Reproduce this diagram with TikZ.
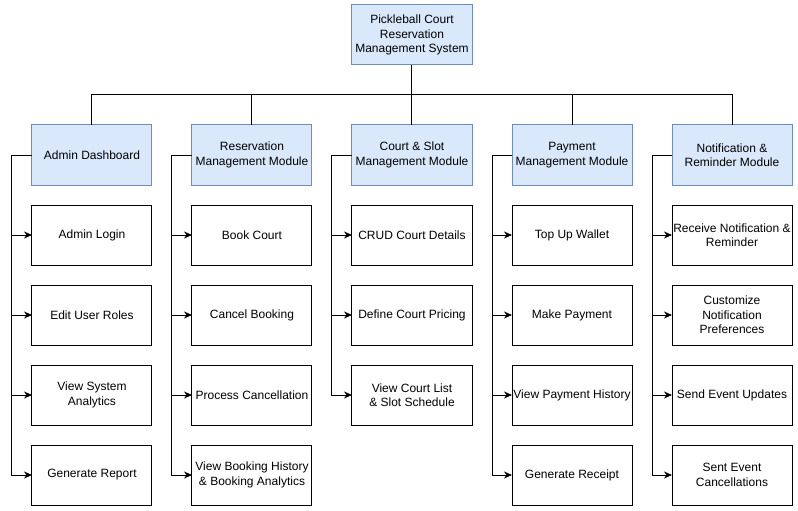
\documentclass[tikz,border=0pt]{standalone}
\usepackage{fontspec}
\setmainfont{Liberation Sans}
\usepackage{xcolor}
\usepackage{tikz}
\usetikzlibrary{arrows.meta,positioning,calc}

\definecolor{modfill}{HTML}{DAE8FC}
\definecolor{moddraw}{HTML}{6C8EBF}

\begin{document}
\begin{tikzpicture}[
    >={Stealth[length=8pt,width=7pt,inset=2.5pt]},
    node distance=20pt and 40pt,
    block/.style={draw, line width=1pt, outer sep=0pt, inner sep=1pt, minimum height=60pt, minimum width=120pt, align=center, font=\fontsize{12}{14.4}\selectfont},
    module/.style={block, fill=modfill, draw=moddraw},
    task/.style={block, fill=white, draw=black},
    link/.style={line width=1pt, draw=black},
    arr/.style={->, line width=1pt, draw=black},
]
\useasboundingbox (-412pt,35pt) rectangle (386pt,-476pt);

% Root
\node[module] (root) {Pickleball Court\\Reservation\\Management System};

% Modules
\node[module, below=60pt of root] (court) {Court \& Slot\\Management Module};
\node[module, left=of court] (resv) {Reservation\\Management Module};
\node[module, left=of resv] (admin) {Admin Dashboard};
\node[module, right=of court] (pay) {Payment\\Management Module};
\node[module, right=of pay] (notif) {Notification \&\\Reminder Module};

% Admin tasks
\node[task, below=of admin] (admin1) {Admin Login};
\node[task, below=of admin1] (admin2) {Edit User Roles};
\node[task, below=of admin2] (admin3) {View System\\Analytics};
\node[task, below=of admin3] (admin4) {Generate Report};

% Reservation tasks
\node[task, below=of resv] (resv1) {Book Court};
\node[task, below=of resv1] (resv2) {Cancel Booking};
\node[task, below=of resv2] (resv3) {Process Cancellation};
\node[task, below=of resv3] (resv4) {View Booking History\\\& Booking Analytics};

% Court tasks
\node[task, below=of court] (court1) {CRUD Court Details};
\node[task, below=of court1] (court2) {Define Court Pricing};
\node[task, below=of court2] (court3) {View Court List\\\& Slot Schedule};

% Payment tasks
\node[task, below=of pay] (pay1) {Top Up Wallet};
\node[task, below=of pay1] (pay2) {Make Payment};
\node[task, below=of pay2] (pay3) {View Payment History};
\node[task, below=of pay3] (pay4) {Generate Receipt};

% Notification tasks
\node[task, below=of notif] (notif1) {Receive Notification \&\\Reminder};
\node[task, below=of notif1] (notif2) {Customize\\Notification\\Preferences};
\node[task, below=of notif2] (notif3) {Send Event Updates};
\node[task, below=of notif3] (notif4) {Sent Event\\Cancellations};

% Root -> modules
\coordinate (bus) at ($(root.south)!0.5!(court.north)$);
\draw[link] (root.south) -- (court.north);
\draw[link] (admin.north) -- (admin.north |- bus) -- (notif.north |- bus) -- (notif.north);
\draw[link] (resv.north) -- (resv.north |- bus);
\draw[link] (pay.north) -- (pay.north |- bus);

% Admin -> tasks
\draw[arr] (admin.west) -- ++(-20pt,0) |- (admin1.west);
\draw[arr] (admin.west) -- ++(-20pt,0) |- (admin2.west);
\draw[arr] (admin.west) -- ++(-20pt,0) |- (admin3.west);
\draw[arr] (admin.west) -- ++(-20pt,0) |- (admin4.west);

% Reservation -> tasks
\draw[arr] (resv.west) -- ++(-20pt,0) |- (resv1.west);
\draw[arr] (resv.west) -- ++(-20pt,0) |- (resv2.west);
\draw[arr] (resv.west) -- ++(-20pt,0) |- (resv3.west);
\draw[arr] (resv.west) -- ++(-20pt,0) |- (resv4.west);

% Court -> tasks
\draw[arr] (court.west) -- ++(-20pt,0) |- (court1.west);
\draw[arr] (court.west) -- ++(-20pt,0) |- (court2.west);
\draw[arr] (court.west) -- ++(-20pt,0) |- (court3.west);

% Payment -> tasks
\draw[arr] (pay.west) -- ++(-20pt,0) |- (pay1.west);
\draw[arr] (pay.west) -- ++(-20pt,0) |- (pay2.west);
\draw[arr] (pay.west) -- ++(-20pt,0) |- (pay3.west);
\draw[arr] (pay.west) -- ++(-20pt,0) |- (pay4.west);

% Notification -> tasks
\draw[arr] (notif.west) -- ++(-20pt,0) |- (notif1.west);
\draw[arr] (notif.west) -- ++(-20pt,0) |- (notif2.west);
\draw[arr] (notif.west) -- ++(-20pt,0) |- (notif3.west);
\draw[arr] (notif.west) -- ++(-20pt,0) |- (notif4.west);

\end{tikzpicture}
\end{document}
